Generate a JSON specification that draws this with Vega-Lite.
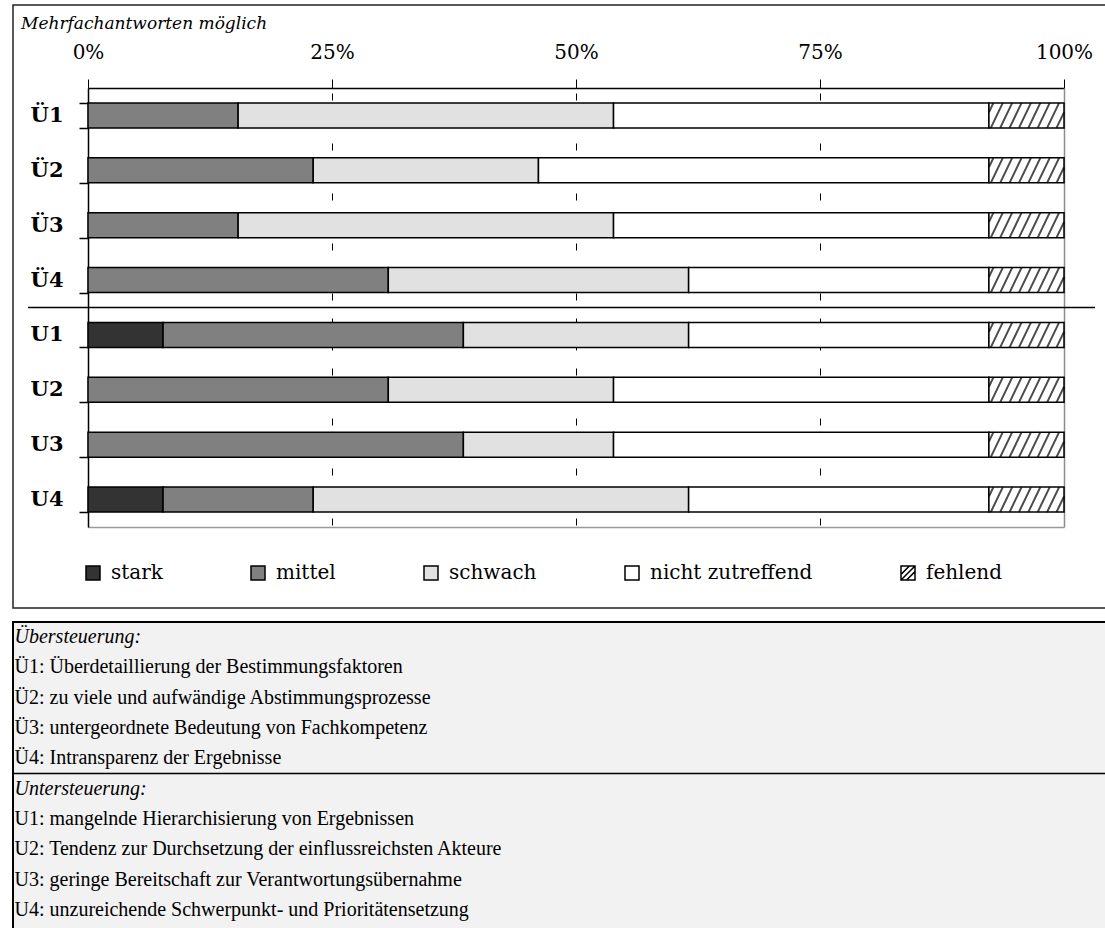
{
  "$schema": "https://vega.github.io/schema/vega-lite/v6.json",
  "background": "white",
  "padding": {"left": 11, "top": -7, "right": -2, "bottom": -2},
  "spacing": 12,
  "config": {
    "font": "Liberation Serif",
    "view": {"stroke": "#222222", "strokeWidth": 1.5},
    "axis": {"labelColor": "black", "titleColor": "black"},
    "legend": {"labelColor": "black"}
  },
  "vconcat": [
    {
      "width": 1095,
      "height": 603,
      "title": {
        "text": "Mehrfachantworten möglich",
        "anchor": "start",
        "frame": "group",
        "offset": -39,
        "dx": 8,
        "font": "DejaVu Serif",
        "fontStyle": "italic",
        "fontWeight": "normal",
        "fontSize": 17,
        "color": "black"
      },
      "data": {
        "values": [
          {"item": "Ü1", "kat": "mittel", "rang": 2, "n": 2},
          {"item": "Ü1", "kat": "schwach", "rang": 3, "n": 5},
          {"item": "Ü1", "kat": "nicht zutreffend", "rang": 4, "n": 5},
          {"item": "Ü1", "kat": "fehlend", "rang": 5, "n": 1},
          {"item": "Ü2", "kat": "mittel", "rang": 2, "n": 3},
          {"item": "Ü2", "kat": "schwach", "rang": 3, "n": 3},
          {"item": "Ü2", "kat": "nicht zutreffend", "rang": 4, "n": 6},
          {"item": "Ü2", "kat": "fehlend", "rang": 5, "n": 1},
          {"item": "Ü3", "kat": "mittel", "rang": 2, "n": 2},
          {"item": "Ü3", "kat": "schwach", "rang": 3, "n": 5},
          {"item": "Ü3", "kat": "nicht zutreffend", "rang": 4, "n": 5},
          {"item": "Ü3", "kat": "fehlend", "rang": 5, "n": 1},
          {"item": "Ü4", "kat": "mittel", "rang": 2, "n": 4},
          {"item": "Ü4", "kat": "schwach", "rang": 3, "n": 4},
          {"item": "Ü4", "kat": "nicht zutreffend", "rang": 4, "n": 4},
          {"item": "Ü4", "kat": "fehlend", "rang": 5, "n": 1},
          {"item": "U1", "kat": "stark", "rang": 1, "n": 1},
          {"item": "U1", "kat": "mittel", "rang": 2, "n": 4},
          {"item": "U1", "kat": "schwach", "rang": 3, "n": 3},
          {"item": "U1", "kat": "nicht zutreffend", "rang": 4, "n": 4},
          {"item": "U1", "kat": "fehlend", "rang": 5, "n": 1},
          {"item": "U2", "kat": "mittel", "rang": 2, "n": 4},
          {"item": "U2", "kat": "schwach", "rang": 3, "n": 3},
          {"item": "U2", "kat": "nicht zutreffend", "rang": 4, "n": 5},
          {"item": "U2", "kat": "fehlend", "rang": 5, "n": 1},
          {"item": "U3", "kat": "mittel", "rang": 2, "n": 5},
          {"item": "U3", "kat": "schwach", "rang": 3, "n": 2},
          {"item": "U3", "kat": "nicht zutreffend", "rang": 4, "n": 5},
          {"item": "U3", "kat": "fehlend", "rang": 5, "n": 1},
          {"item": "U4", "kat": "stark", "rang": 1, "n": 1},
          {"item": "U4", "kat": "mittel", "rang": 2, "n": 2},
          {"item": "U4", "kat": "schwach", "rang": 3, "n": 5},
          {"item": "U4", "kat": "nicht zutreffend", "rang": 4, "n": 4},
          {"item": "U4", "kat": "fehlend", "rang": 5, "n": 1}
        ]
      },
      "resolve": {"axis": {"x": "independent", "y": "independent"}},
      "layer": [
        {
          "mark": {"type": "bar", "stroke": "black", "strokeWidth": 1.5},
          "encoding": {
            "x": {
              "field": "n",
              "type": "quantitative",
              "stack": "normalize",
              "scale": {"domain": [0, 1], "range": [75, 1051]},
              "axis": {
                "orient": "top",
                "offset": -83,
                "title": null,
                "values": [0, 0.25, 0.5, 0.75, 1],
                "format": "%",
                "labelFlush": false,
                "labelFont": "DejaVu Serif",
                "labelFontSize": 20,
                "labelPadding": 17,
                "tickSize": 9,
                "tickColor": "black",
                "tickWidth": 1,
                "domainColor": "black",
                "domainWidth": 1.5,
                "grid": false
              }
            },
            "y": {
              "field": "item",
              "type": "nominal",
              "scale": {
                "domain": ["Ü1", "Ü2", "Ü3", "Ü4", "U1", "U2", "U3", "U4"],
                "range": [83, 522],
                "paddingInner": 0.5444,
                "paddingOuter": 0.2722
              },
              "axis": {
                "orient": "left",
                "offset": -75,
                "title": null,
                "tickBand": "extent",
                "tickSize": 9,
                "tickColor": "black",
                "tickWidth": 1.5,
                "domainColor": "black",
                "domainWidth": 1.5,
                "labelFont": "DejaVu Serif",
                "labelFontWeight": "bold",
                "labelFontSize": 21,
                "labelPadding": 16,
                "grid": false
              }
            },
            "color": {
              "field": "kat",
              "type": "nominal",
              "scale": {
                "domain": ["stark", "mittel", "schwach", "nicht zutreffend", "fehlend"],
                "range": ["#333333", "#808080", "#e1e1e1", "#ffffff", "#ffffff"]
              },
              "legend": {
                "title": null,
                "orient": "none",
                "legendX": 70,
                "legendY": 558,
                "direction": "horizontal",
                "columns": 5,
                "gridAlign": "none",
                "columnPadding": 85,
                "padding": 0,
                "symbolType": "square",
                "symbolSize": 196,
                "symbolStrokeWidth": 1.5,
                "symbolStrokeColor": "black",
                "labelFont": "DejaVu Serif",
                "labelFontSize": 20,
                "labelOffset": 8,
                "labelLimit": 300,
                "encode": {
                  "symbols": {
                    "update": {
                      "shape": {"signal": "datum.value === 'fehlend' ? 'M-1,-1H1V1H-1Z M-1,0.2L0.2,-1 M-1,1L1,-1 M-0.2,1L1,-0.2' : 'square'"},
                      "stroke": {"value": "black"},
                      "strokeWidth": {"value": 1.5}
                    }
                  }
                }
              }
            },
            "order": {"field": "rang", "type": "quantitative"}
          }
        },
        {
          "mark": {
            "type": "point",
            "filled": false,
            "stroke": "black",
            "strokeWidth": 2,
            "size": 5637,
            "shape": "M-1,-0.083L-0.88,-0.333M-0.95,0.333L-0.63,-0.333M-0.7,0.333L-0.38,-0.333M-0.45,0.333L-0.13,-0.333M-0.2,0.333L0.12,-0.333M0.05,0.333L0.37,-0.333M0.3,0.333L0.62,-0.333M0.55,0.333L0.87,-0.333M0.8,0.333L1,-0.083"
          },
          "encoding": {
            "x": {
              "field": "n",
              "type": "quantitative",
              "stack": "normalize",
              "bandPosition": 0.5,
              "axis": {
                "orient": "bottom",
                "offset": -81,
                "title": null,
                "values": [0.25, 0.5, 0.75],
                "labels": false,
                "ticks": false,
                "domainColor": "#9a9a9a",
                "domainWidth": 1.5,
                "grid": true,
                "gridColor": "black",
                "gridWidth": 1,
                "gridDash": [7, 18]
              }
            },
            "y": {
              "field": "item",
              "type": "nominal",
              "axis": {
                "orient": "right",
                "offset": -44,
                "title": null,
                "labels": false,
                "ticks": false,
                "grid": false,
                "domainColor": "#8c8c8c",
                "domainWidth": 1.5
              }
            },
            "detail": {"field": "kat"},
            "order": {"field": "rang", "type": "quantitative"},
            "strokeOpacity": {"condition": {"test": "datum.kat === 'fehlend'", "value": 1}, "value": 0}
          }
        },
        {
          "data": {"values": [{"grenze": "U1", "von": -0.0615, "bis": 1.0318}]},
          "mark": {"type": "rule", "stroke": "black", "strokeWidth": 1.5, "yOffset": -14.94},
          "encoding": {
            "y": {"field": "grenze", "type": "nominal", "bandPosition": 0, "axis": null},
            "x": {"field": "von", "type": "quantitative", "axis": null},
            "x2": {"field": "bis"}
          }
        }
      ]
    },
    {
      "width": 1095,
      "height": 308,
      "view": {"fill": "#f2f2f2", "stroke": "black", "strokeWidth": 2},
      "data": {
        "values": [
          {"zeile": "Übersteuerung:"},
          {"zeile": "Ü1: Überdetaillierung der Bestimmungsfaktoren"},
          {"zeile": "Ü2: zu viele und aufwändige Abstimmungsprozesse"},
          {"zeile": "Ü3: untergeordnete Bedeutung von Fachkompetenz"},
          {"zeile": "Ü4: Intransparenz der Ergebnisse"},
          {"zeile": "Untersteuerung:"},
          {"zeile": "U1: mangelnde Hierarchisierung von Ergebnissen"},
          {"zeile": "U2: Tendenz zur Durchsetzung der einflussreichsten Akteure"},
          {"zeile": "U3: geringe Bereitschaft zur Verantwortungsübernahme"},
          {"zeile": "U4: unzureichende Schwerpunkt- und Prioritätensetzung"}
        ]
      },
      "resolve": {"axis": {"y": "independent"}},
      "layer": [
        {
          "mark": {"type": "rect", "opacity": 0},
          "encoding": {
            "y": {
              "field": "zeile",
              "type": "nominal",
              "scale": {
                "domain": [
                  "Übersteuerung:",
                  "Ü1: Überdetaillierung der Bestimmungsfaktoren",
                  "Ü2: zu viele und aufwändige Abstimmungsprozesse",
                  "Ü3: untergeordnete Bedeutung von Fachkompetenz",
                  "Ü4: Intransparenz der Ergebnisse",
                  "Untersteuerung:",
                  "U1: mangelnde Hierarchisierung von Ergebnissen",
                  "U2: Tendenz zur Durchsetzung der einflussreichsten Akteure",
                  "U3: geringe Bereitschaft zur Verantwortungsübernahme",
                  "U4: unzureichende Schwerpunkt- und Prioritätensetzung"
                ],
                "range": [0, 303],
                "paddingInner": 0,
                "paddingOuter": 0
              },
              "axis": {
                "orient": "left",
                "offset": -10,
                "title": null,
                "values": ["Übersteuerung:", "Untersteuerung:"],
                "domain": false,
                "ticks": false,
                "grid": false,
                "labelAlign": "left",
                "labelPadding": 9,
                "labelFont": "Liberation Serif",
                "labelFontSize": 20,
                "labelFontStyle": "italic",
                "labelLimit": 1100
              }
            }
          }
        },
        {
          "mark": {"type": "rect", "opacity": 0},
          "encoding": {
            "y": {
              "field": "zeile",
              "type": "nominal",
              "axis": {
                "orient": "right",
                "offset": -1094,
                "title": null,
                "values": [
                  "Ü1: Überdetaillierung der Bestimmungsfaktoren",
                  "Ü2: zu viele und aufwändige Abstimmungsprozesse",
                  "Ü3: untergeordnete Bedeutung von Fachkompetenz",
                  "Ü4: Intransparenz der Ergebnisse",
                  "U1: mangelnde Hierarchisierung von Ergebnissen",
                  "U2: Tendenz zur Durchsetzung der einflussreichsten Akteure",
                  "U3: geringe Bereitschaft zur Verantwortungsübernahme",
                  "U4: unzureichende Schwerpunkt- und Prioritätensetzung"
                ],
                "domain": false,
                "ticks": false,
                "grid": false,
                "labelAlign": "left",
                "labelPadding": 0,
                "labelFont": "Liberation Serif",
                "labelFontSize": 20,
                "labelFontStyle": "normal",
                "labelLimit": 1100
              }
            }
          }
        },
        {
          "data": {"values": [{"grenze": "Untersteuerung:"}]},
          "mark": {"type": "rule", "stroke": "black", "strokeWidth": 1.5},
          "encoding": {
            "y": {"field": "grenze", "type": "nominal", "bandPosition": 0, "axis": null}
          }
        }
      ]
    }
  ]
}
